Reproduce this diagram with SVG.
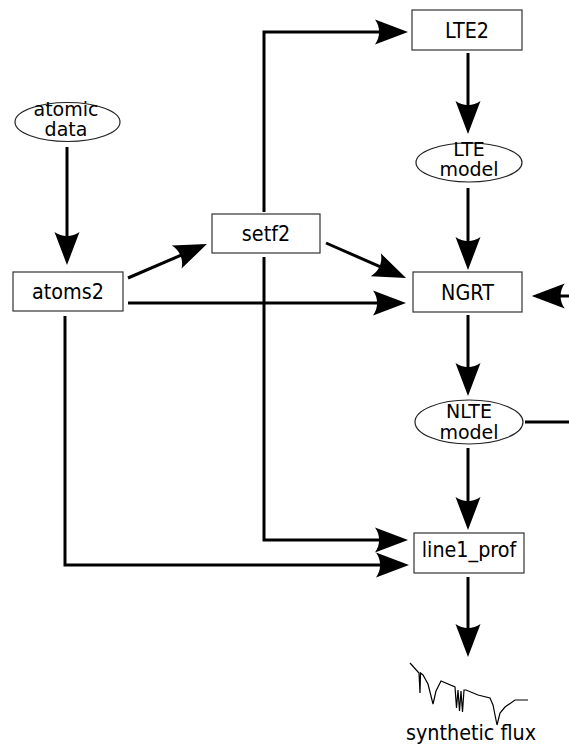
<svg xmlns="http://www.w3.org/2000/svg" width="569" height="745" viewBox="0 0 569 745">
<style>
.box{fill:#fff;stroke:#333;stroke-width:1.2}
.ell{fill:#fff;stroke:#222;stroke-width:1.2}
.lbl{font-family:"DejaVu Sans",sans-serif;font-size:19.2px;fill:#000;text-anchor:middle}
.el{font-size:19px}
.con{fill:none;stroke:#000;stroke-width:3}
.arr{marker-end:url(#ah)}
.flux{fill:none;stroke:#000;stroke-width:1.2;stroke-linejoin:miter}
</style>
<defs>
<marker id="ah" markerUnits="userSpaceOnUse" viewBox="-40 -14 44 28" markerWidth="44" markerHeight="28" refX="-8" refY="0" orient="auto">
<path d="M0,0 L-33,-12.5 C-27.5,-5 -27.5,5 -33,12.5 Z" fill="#000"/>
</marker>
</defs>
<g id="connectors">
<path class="con arr" d="M67,147 V257"/>
<path class="con arr" d="M128,278 L199.6,247.2"/>
<path class="con arr" d="M128,303 H398"/>
<path class="con arr" d="M65,316 V565 H401"/>
<path class="con arr" d="M264,257 V540 H400"/>
<path class="con arr" d="M264,212 V32 H400"/>
<path class="con arr" d="M326,243 L398.7,274.8"/>
<path class="con arr" d="M468,53 V126"/>
<path class="con arr" d="M468,188 V262"/>
<path class="con arr" d="M468,315 V388"/>
<path class="con arr" d="M468,448 V522"/>
<path class="con arr" d="M468,577 V649"/>
<path class="con arr" d="M572,296 H539.7"/>
<path class="con" d="M525,422 H572"/>
</g>
<g id="atomic_data">
<ellipse class="ell" cx="67.5" cy="122" rx="52.5" ry="19.5"/>
<text class="lbl el"><tspan x="66" y="115.5">atomic</tspan><tspan x="66" y="135.5">data</tspan></text>
</g>
<g id="atoms2">
<rect class="box" x="13" y="272" width="110" height="39"/>
<text class="lbl" transform="translate(68,299) scale(1,1.06)">atoms2</text>
</g>
<g id="setf2">
<rect class="box" x="212" y="214" width="108" height="39"/>
<text class="lbl" transform="translate(266,241) scale(1,1.06)">setf2</text>
</g>
<g id="LTE2">
<rect class="box" x="412" y="10" width="110" height="40"/>
<text class="lbl" transform="translate(467,37.5) scale(1,1.06)">LTE2</text>
</g>
<g id="LTE_model">
<ellipse class="ell" cx="469" cy="162.5" rx="53" ry="19.5"/>
<text class="lbl el"><tspan x="469" y="156">LTE</tspan><tspan x="469" y="176">model</tspan></text>
</g>
<g id="NGRT">
<rect class="box" x="413" y="272" width="109" height="40"/>
<text class="lbl" transform="translate(467.5,299.5) scale(1,1.06)">NGRT</text>
</g>
<g id="NLTE_model">
<ellipse class="ell" cx="469" cy="422" rx="54" ry="22"/>
<text class="lbl el"><tspan x="469" y="418">NLTE</tspan><tspan x="469" y="439">model</tspan></text>
</g>
<g id="line1_prof">
<rect class="box" x="414" y="533" width="110" height="40"/>
<text class="lbl" transform="translate(469,557) scale(1,1.06)">line1_prof</text>
</g>
<g id="synthetic_flux">
<polyline class="flux" points="410,663 419,673 420,693 420.5,673 423,675 428,684 433,704 436,691 441,681 455,687 456.5,708 458,690 459.5,711 461,691 462.5,712 464,690 466,690 478,695 490,698 493,705 497,725 500,713 505,707 515,700 528,700"/>
<text class="lbl" transform="translate(471,740) scale(1,1.06)">synthetic flux</text>
</g>
</svg>
